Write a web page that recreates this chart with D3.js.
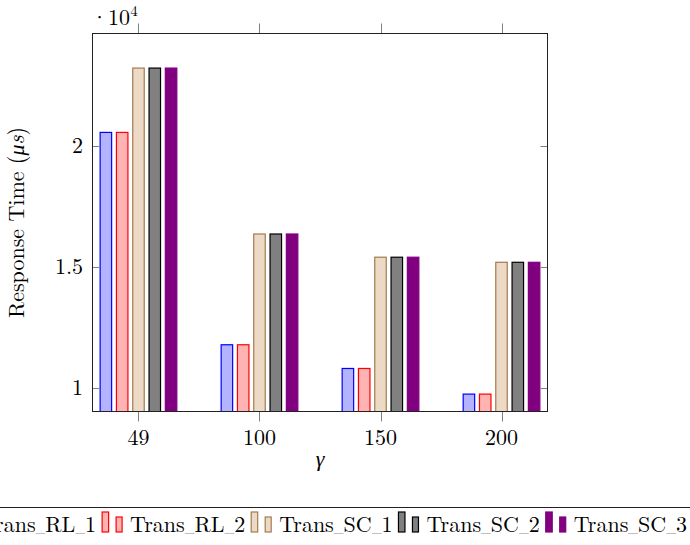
<!DOCTYPE html>
<html>
<head>
<meta charset="utf-8">
<script src="https://cdn.jsdelivr.net/npm/d3@7"></script>
<style>
  body { margin: 0; background: #fff; }
</style>
</head>
<body>
<svg id="chart" width="690" height="545" font-family="'Latin Modern Roman', 'Liberation Serif', serif"></svg>
<script>
// Data (response time in microseconds)
var categories = ["49", "100", "150", "200"];
var seriesNames = ["Trans_RL_1", "Trans_RL_2", "Trans_SC_1", "Trans_SC_2", "Trans_SC_3"];
var transRL1 = [20560, 11780, 10800, 9740];
var transRL2 = [20560, 11780, 10800, 9740];
var transSC1 = [23220, 16360, 15400, 15190];
var transSC2 = [23220, 16360, 15400, 15190];
var transSC3 = [23220, 16360, 15400, 15190];
var yTicks = [10000, 15000, 20000];
var yTickLabels = ["1", "1.5", "2"];

var seriesValues = [transRL1, transRL2, transSC1, transSC2, transSC3];
var fills = ["#b3b3ff", "#ffb3b3", "#ecd9c6", "#808080", "#800080"];
var strokes = ["#0000ff", "#ff0000", "#a57a4d", "#000000", "#800080"];

var svg = d3.select("#chart");

// Plot frame (don't call it "top": that's window.top)
var plotLeft = 92.5, plotRight = 547.5, plotTop = 33.5, plotBottom = 411.5;

var x = d3.scalePoint()
    .domain(categories)
    .range([plotLeft, plotRight])
    .padding(0.38);

var y = d3.scaleLinear()
    .domain([9000, 24670])
    .range([412, 33]);

// Bars: five per group, 16.3px apart, 11.5px wide
var barStep = 16.3, barWidth = 11.5;

var bars = [];
seriesValues.forEach(function (vals, s) {
    vals.forEach(function (v, c) {
        bars.push({ s: s, cat: categories[c], value: v });
    });
});

svg.append("defs").append("clipPath").attr("id", "plotclip")
    .append("rect")
    .attr("x", plotLeft).attr("y", plotTop)
    .attr("width", plotRight - plotLeft).attr("height", plotBottom - plotTop);

svg.append("g")
    .attr("class", "bars")
    .attr("clip-path", "url(#plotclip)")
    .selectAll("rect")
    .data(bars)
    .enter()
    .append("rect")
    .attr("x", function (d) { return x(d.cat) + (d.s - 2) * barStep - barWidth / 2; })
    .attr("y", function (d) { return y(d.value); })
    .attr("width", barWidth)
    .attr("height", function (d) { return plotBottom + 2 - y(d.value); })
    .attr("fill", function (d) { return fills[d.s]; })
    .attr("stroke", function (d) { return strokes[d.s]; })
    .attr("stroke-width", 1.2);

// Tick marks: x ticks outside (top and bottom), y ticks inside (left and right)
var ticks = svg.append("g").attr("stroke", "#808080").attr("stroke-width", 1);

categories.forEach(function (c) {
    var px = Math.round(x(c)) + 0.5;
    ticks.append("line").attr("x1", px).attr("x2", px).attr("y1", plotBottom).attr("y2", plotBottom + 10);
    ticks.append("line").attr("x1", px).attr("x2", px).attr("y1", plotTop).attr("y2", plotTop - 10);
});

yTicks.forEach(function (t) {
    var py = Math.round(y(t)) + 0.5;
    ticks.append("line").attr("x1", plotLeft).attr("x2", plotLeft + 7).attr("y1", py).attr("y2", py);
    ticks.append("line").attr("x1", plotRight).attr("x2", plotRight - 7).attr("y1", py).attr("y2", py);
});

// Frame
svg.append("rect")
    .attr("x", plotLeft).attr("y", plotTop)
    .attr("width", plotRight - plotLeft).attr("height", plotBottom - plotTop)
    .attr("fill", "none")
    .attr("stroke", "#222")
    .attr("stroke-width", 1);

// Tick labels
svg.append("g").selectAll("text")
    .data(categories)
    .enter()
    .append("text")
    .attr("x", function (d) { return x(d); })
    .attr("y", 445)
    .attr("text-anchor", "middle")
    .style("font-size", "22px")
    .text(function (d) { return d; });

svg.append("g").selectAll("text")
    .data(yTicks)
    .enter()
    .append("text")
    .attr("x", 83)
    .attr("y", function (d) { return y(d) + 7.5; })
    .attr("text-anchor", "end")
    .style("font-size", "22px")
    .text(function (d, i) { return yTickLabels[i]; });

// Scale factor label
var mult = svg.append("text")
    .attr("x", 91)
    .attr("y", 25)
    .style("font-size", "22px");
mult.append("tspan").text("\u00b710");
mult.append("tspan").attr("dy", -9).style("font-size", "15px").text("4");

// Axis labels
var ylab = svg.append("text")
    .attr("transform", "translate(24," + ((plotTop + plotBottom) / 2) + ") rotate(-90)")
    .attr("text-anchor", "middle")
    .style("font-size", "22px");
ylab.append("tspan").text("Response Time (");
ylab.append("tspan").style("font-style", "italic").text("\u03bcs");
ylab.append("tspan").text(")");

svg.append("text")
    .attr("x", (plotLeft + plotRight) / 2)
    .attr("y", 466)
    .attr("text-anchor", "middle")
    .style("font-size", "22px")
    .style("font-style", "italic")
    .text("\u03b3");

// Legend: one row, centred below the plot.
// LaTeX's \_ is a short rule, so draw underscores in a smaller size
function labelWithShortUnderscores(textSel, name) {
    name.split("_").forEach(function (part, k) {
        if (k > 0) {
            textSel.append("tspan").style("font-size", "13px").text("_");
        }
        textSel.append("tspan").text(part);
    });
}

var legend = svg.append("g").attr("class", "legend");
var entryX = 0;
var entries = [];
seriesNames.forEach(function (name, i) {
    var g = legend.append("g");
    g.append("rect")
        .attr("x", 0).attr("y", 512).attr("width", 6.5).attr("height", 20)
        .attr("fill", fills[i]).attr("stroke", strokes[i]).attr("stroke-width", 1.2);
    g.append("rect")
        .attr("x", 14).attr("y", 517).attr("width", 6).attr("height", 15)
        .attr("fill", fills[i]).attr("stroke", strokes[i]).attr("stroke-width", 1.2);
    var t = g.append("text")
        .attr("x", 28).attr("y", 532)
        .style("font-size", "22px");
    labelWithShortUnderscores(t, name);
    var w = 28 + t.node().getComputedTextLength() + 6;
    entries.push({ g: g, offset: entryX });
    entryX += w;
});
var legendStart = (plotLeft + plotRight) / 2 - (entryX - 6) / 2;
entries.forEach(function (e) {
    e.g.attr("transform", "translate(" + (legendStart + e.offset) + ",0)");
});

legend.insert("rect", ":first-child")
    .attr("x", legendStart - 6)
    .attr("y", 507.5)
    .attr("width", entryX + 6)
    .attr("height", 40)
    .attr("fill", "#fff")
    .attr("stroke", "#222")
    .attr("stroke-width", 1);
</script>
</body>
</html>
